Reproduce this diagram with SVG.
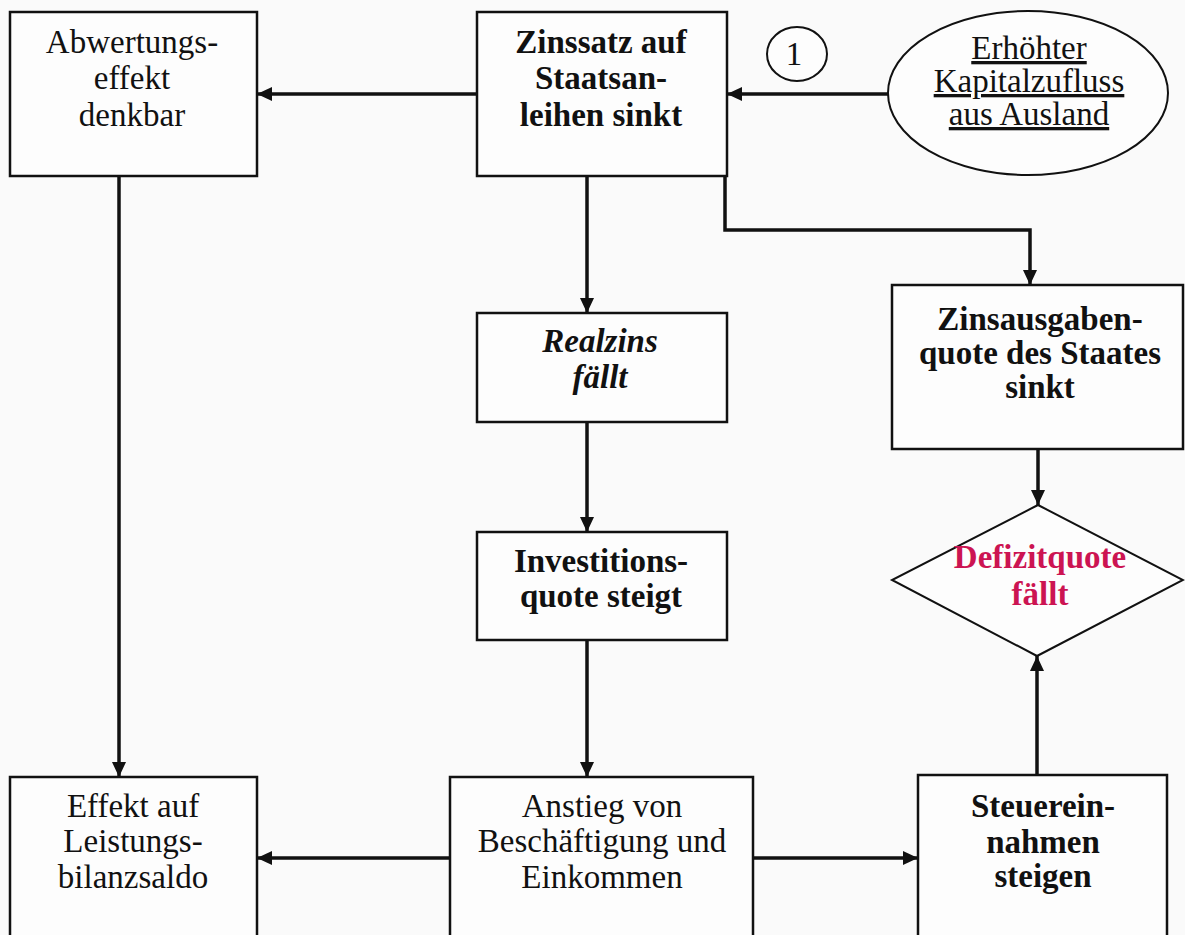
<svg xmlns="http://www.w3.org/2000/svg" width="1185" height="935" viewBox="0 0 1185 935">
<style>
.box{fill:#fdfdfd;stroke:#111;stroke-width:2.5}
.shape{fill:#fdfdfd;stroke:#111;stroke-width:2}
.t{font-family:"Liberation Serif","Times New Roman",serif;font-size:33px;fill:#111;text-anchor:middle}
.b{font-weight:bold}
.i{font-style:italic}
.red{fill:#cc1452}
.u{text-decoration:underline}
.c{fill:none;stroke:#111;stroke-width:3.5;marker-end:url(#ah)}
</style>
<defs>
<marker id="ah" markerUnits="userSpaceOnUse" markerWidth="16" markerHeight="14" refX="15" refY="7" orient="auto">
<path d="M0,0 L15,7 L0,14 z" fill="#111"/>
</marker>
</defs>
<rect width="1185" height="935" fill="#fafafa"/>
<g id="connectors">
<line class="c" x1="888" y1="94" x2="727" y2="94"/>
<line class="c" x1="477" y1="94" x2="257" y2="94"/>
<line class="c" x1="587" y1="176" x2="587" y2="313"/>
<path class="c" d="M725,176 V230 H1030 V285"/>
<line class="c" x1="1038" y1="449" x2="1038" y2="505"/>
<line class="c" x1="587" y1="422" x2="587" y2="532"/>
<line class="c" x1="587" y1="640" x2="587" y2="777"/>
<line class="c" x1="119" y1="176" x2="119" y2="777"/>
<line class="c" x1="450" y1="858" x2="257" y2="858"/>
<line class="c" x1="753" y1="858" x2="918" y2="858"/>
<line class="c" x1="1037" y1="775" x2="1037" y2="656"/>
</g>
<g id="abwertung">
<rect class="box" x="10" y="12" width="247" height="164"/>
<text class="t" x="132" y="53">Abwertungs-</text>
<text class="t" x="132" y="89">effekt</text>
<text class="t" x="132" y="126">denkbar</text>
</g>
<g id="zinssatz">
<rect class="box" x="477" y="12" width="250" height="164"/>
<text class="t b" x="601" y="53">Zinssatz auf</text>
<text class="t b" x="601" y="89">Staatsan-</text>
<text class="t b" x="601" y="126">leihen sinkt</text>
</g>
<g id="marker1">
<ellipse class="shape" cx="797" cy="54" rx="30" ry="27"/>
<text class="t" x="794" y="65">1</text>
</g>
<g id="kapitalzufluss">
<ellipse class="shape" cx="1028" cy="93" rx="140" ry="82"/>
<text class="t u" x="1029" y="59">Erhöhter</text>
<text class="t u" x="1029" y="92">Kapitalzufluss</text>
<text class="t u" x="1029" y="125">aus Ausland</text>
</g>
<g id="zinsausgaben">
<rect class="box" x="892" y="285" width="291" height="164"/>
<text class="t b" x="1040" y="330">Zinsausgaben-</text>
<text class="t b" x="1040" y="364">quote des Staates</text>
<text class="t b" x="1040" y="398">sinkt</text>
</g>
<g id="defizitquote">
<polygon class="shape" points="1038,505 1183,580 1037,656 892,580"/>
<text class="t b red" x="1040" y="568">Defizitquote</text>
<text class="t b red" x="1040" y="605">fällt</text>
</g>
<g id="realzins">
<rect class="box" x="477" y="313" width="250" height="109"/>
<text class="t b i" x="600" y="352">Realzins</text>
<text class="t b i" x="600" y="388">fällt</text>
</g>
<g id="investition">
<rect class="box" x="477" y="532" width="250" height="108"/>
<text class="t b" x="601" y="572">Investitions-</text>
<text class="t b" x="601" y="607">quote steigt</text>
</g>
<g id="leistungsbilanz">
<rect class="box" x="10" y="777" width="247" height="190"/>
<text class="t" x="133" y="817">Effekt auf</text>
<text class="t" x="133" y="852">Leistungs-</text>
<text class="t" x="133" y="888">bilanzsaldo</text>
</g>
<g id="beschaeftigung">
<rect class="box" x="450" y="777" width="303" height="190"/>
<text class="t" x="602" y="817">Anstieg von</text>
<text class="t" x="602" y="852">Beschäftigung und</text>
<text class="t" x="602" y="888">Einkommen</text>
</g>
<g id="steuereinnahmen">
<rect class="box" x="918" y="775" width="249" height="190"/>
<text class="t b" x="1043" y="817">Steuerein-</text>
<text class="t b" x="1043" y="853">nahmen</text>
<text class="t b" x="1043" y="887">steigen</text>
</g>
</svg>
